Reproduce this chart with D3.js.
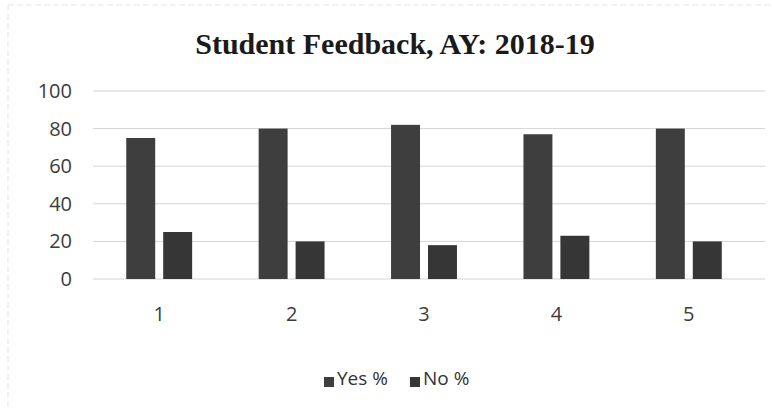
<!doctype html>
<html>
<head>
    <meta charset="utf8">
    <style>
        body { margin: 0; background: #fff; }
        .grid line { stroke: #d4d4d4; }
        .tick text { fill: #3c3c3c; font-family: "Open Sans", "Liberation Sans", sans-serif; font-size: 20px; }
</style>
    <script src="https://d3js.org/d3.v7.min.js"></script>
</head>
<body>
<svg width="772" height="409"></svg>
<script>

    var categories = ["1", "2", "3", "4", "5"];
    var yesValues = [75, 80, 82, 77, 80];
    var noValues = [25, 20, 18, 23, 20];
    var seriesNames = ["Yes %", "No %"];
    var yTicks = [0, 20, 40, 60, 80, 100];

    var svg = d3.select("svg");
    var plotLeft = 93, plotRight = 755, plotTop = 91, plotBottom = 279;

    // faint frame of the scanned chart
    svg.append("rect")
       .attr("x", 8).attr("y", 5)
       .attr("width", 780).attr("height", 420)
       .attr("fill", "none")
       .attr("stroke", "#e4e4e4")
       .attr("stroke-dasharray", "6,3");

    svg.append("text")
       .attr("x", 395)
       .attr("y", 54)
       .attr("text-anchor", "middle")
       .attr("font-family", "Liberation Serif, serif")
       .attr("font-weight", "bold")
       .attr("font-size", "30px")
       .attr("fill", "#1a1a1a")
       .text("Student Feedback, AY: 2018-19");

    var x = d3.scaleBand().domain(categories).range([plotLeft, plotRight]);
    var x1 = d3.scaleBand().domain(seriesNames).range([0, x.bandwidth()]).paddingInner(0.216).paddingOuter(0.9);
    var y = d3.scaleLinear().domain([0, 100]).range([plotBottom, plotTop]);

    svg.append("g")
       .attr("class", "grid")
       .selectAll("line")
       .data(yTicks)
       .enter().append("line")
       .attr("x1", plotLeft)
       .attr("x2", 765)
       .attr("y1", function(d) { return y(d); })
       .attr("y2", function(d) { return y(d); });

    var yAxis = svg.append("g")
       .attr("transform", "translate(" + plotLeft + ",0)")
       .call(d3.axisLeft(y).tickValues(yTicks).tickSize(0).tickPadding(21));
    yAxis.select(".domain").remove();

    var xAxis = svg.append("g")
       .attr("transform", "translate(0," + plotBottom + ")")
       .call(d3.axisBottom(x).tickSize(0).tickPadding(28));
    xAxis.select(".domain").remove();

    var colors = ["#3e3e3e", "#363636"];
    var rows = categories.map(function(c, i) {
        return [{ c: c, s: seriesNames[0], v: yesValues[i] }, { c: c, s: seriesNames[1], v: noValues[i] }];
    });

    svg.append("g")
       .selectAll("g")
       .data(rows)
       .enter().append("g")
       .attr("transform", function(d) { return "translate(" + x(d[0].c) + ",0)"; })
       .selectAll("rect")
       .data(function(d) { return d; })
       .enter().append("rect")
       .attr("x", function(d) { return x1(d.s); })
       .attr("y", function(d) { return y(d.v); })
       .attr("width", x1.bandwidth())
       .attr("height", function(d) { return y(0) - y(d.v); })
       .attr("fill", function(d, i) { return colors[i]; });

    // legend
    var legend = svg.append("g").attr("transform", "translate(324,385)");
    var lx = [0, 86];
    seriesNames.forEach(function(name, i) {
        legend.append("rect")
              .attr("x", lx[i]).attr("y", -8)
              .attr("width", 10).attr("height", 10)
              .attr("fill", colors[i]);
        legend.append("text")
              .attr("x", lx[i] + 13).attr("y", 0)
              .attr("font-family", "Open Sans, Liberation Sans, sans-serif")
              .attr("font-size", "19px")
              .attr("fill", "#333")
              .text(name);
    });

</script>
</body>
</html>
